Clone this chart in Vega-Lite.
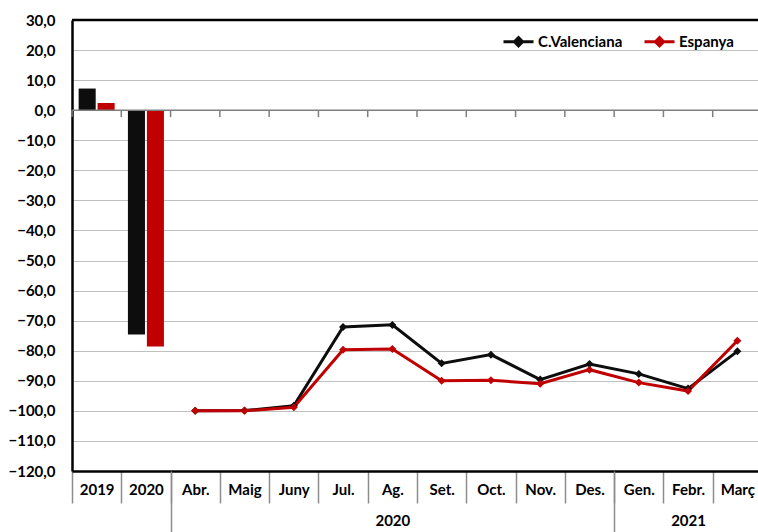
{
  "$schema": "https://vega.github.io/schema/vega-lite/v6.json",
  "width": 686,
  "height": 451,
  "autosize": "none",
  "padding": {"left": 72, "top": 20, "right": 0, "bottom": 61},
  "background": "white",
  "config": {
    "view": {"stroke": null},
    "font": "Lato",
    "axisY": {
      "title": null,
      "values": [-120,-110,-100,-90,-80,-70,-60,-50,-40,-30,-20,-10,0,10,20,30],
      "labelExpr": "replace(format(datum.value, '.1f'), '.', ',')",
      "labelOverlap": false, "labelBound": false, "labelFlush": false,
      "domain": true, "domainColor": "black", "domainWidth": 2.5,
      "ticks": false, "labelPadding": 17,
      "labelFont": "Lato", "labelFontWeight": "bold", "labelFontSize": 15, "labelColor": "black",
      "grid": true, "gridDash": [1, 1], "gridColor": "#808080", "gridWidth": 1, "gridOpacity": 1
    }
  },
  "datasets": {
    "bars": [
      {"cat": "2019", "serie": "C.Valenciana", "v": 7.2},
      {"cat": "2019", "serie": "Espanya", "v": 2.4},
      {"cat": "2020", "serie": "C.Valenciana", "v": -74.6},
      {"cat": "2020", "serie": "Espanya", "v": -78.6}
    ],
    "lines": [
      {"cat": "Abr.", "serie": "C.Valenciana", "v": -100.0},
      {"cat": "Maig", "serie": "C.Valenciana", "v": -99.9},
      {"cat": "Juny", "serie": "C.Valenciana", "v": -98.3},
      {"cat": "Jul.", "serie": "C.Valenciana", "v": -72.1},
      {"cat": "Ag.", "serie": "C.Valenciana", "v": -71.4},
      {"cat": "Set.", "serie": "C.Valenciana", "v": -84.2},
      {"cat": "Oct.", "serie": "C.Valenciana", "v": -81.3},
      {"cat": "Nov.", "serie": "C.Valenciana", "v": -89.6},
      {"cat": "Des.", "serie": "C.Valenciana", "v": -84.4},
      {"cat": "Gen.", "serie": "C.Valenciana", "v": -87.7},
      {"cat": "Febr.", "serie": "C.Valenciana", "v": -92.6},
      {"cat": "Març", "serie": "C.Valenciana", "v": -80.2},
      {"cat": "Abr.", "serie": "Espanya", "v": -100.0},
      {"cat": "Maig", "serie": "Espanya", "v": -100.0},
      {"cat": "Juny", "serie": "Espanya", "v": -98.8},
      {"cat": "Jul.", "serie": "Espanya", "v": -79.7},
      {"cat": "Ag.", "serie": "Espanya", "v": -79.4},
      {"cat": "Set.", "serie": "Espanya", "v": -90.0},
      {"cat": "Oct.", "serie": "Espanya", "v": -89.8},
      {"cat": "Nov.", "serie": "Espanya", "v": -91.0},
      {"cat": "Des.", "serie": "Espanya", "v": -86.3},
      {"cat": "Gen.", "serie": "Espanya", "v": -90.6},
      {"cat": "Febr.", "serie": "Espanya", "v": -93.4},
      {"cat": "Març", "serie": "Espanya", "v": -76.7}
    ],
    "cats": [
      {"cat": "2019"}, {"cat": "2020"}, {"cat": "Abr."}, {"cat": "Maig"}, {"cat": "Juny"},
      {"cat": "Jul."}, {"cat": "Ag."}, {"cat": "Set."}, {"cat": "Oct."}, {"cat": "Nov."},
      {"cat": "Des."}, {"cat": "Gen."}, {"cat": "Febr."}, {"cat": "Març"}
    ],
    "one": [{}]
  },
  "resolve": {"axis": {"x": "independent"}},
  "layer": [
    {
      "data": {"name": "bars"},
      "mark": {"type": "bar", "opacity": 1},
      "encoding": {
        "x": {
          "field": "cat", "type": "nominal",
          "scale": {
            "domain": ["2019","2020","Abr.","Maig","Juny","Jul.","Ag.","Set.","Oct.","Nov.","Des.","Gen.","Febr.","Març"],
            "range": [0, 690], "paddingInner": 0, "paddingOuter": 0
          },
          "axis": {
            "orient": "bottom", "title": null, "labelAngle": 0,
            "domain": true, "domainColor": "black", "domainWidth": 2.5,
            "ticks": true, "tickBand": "extent", "tickSize": 32, "tickColor": "#8c8c8c", "tickWidth": 1.5,
            "labelPadding": -21, "labelBaseline": "top",
            "labelFont": "Lato", "labelFontWeight": "bold", "labelFontSize": 15, "labelColor": "black",
            "labelOverlap": false, "labelBound": false, "labelFlush": false, "grid": false
          }
        },
        "xOffset": {
          "field": "serie",
          "scale": {"domain": ["C.Valenciana", "Espanya"], "paddingInner": 0.1, "paddingOuter": 0.35}
        },
        "y": {
          "field": "v", "type": "quantitative",
          "scale": {"domain": [-120, 30], "nice": false},
          "axis": {"values": [-120,-110,-100,-90,-80,-70,-60,-50,-40,-30,-20,-10,0,10,20,30], "labelExpr": "replace(format(datum.value, '.1f'), '.', ',')", "grid": true, "gridDash": [1, 1], "gridColor": "#808080", "gridWidth": 1, "gridOpacity": 1, "tickCount": 16, "labelOverlap": false}
        },
        "color": {
          "field": "serie", "type": "nominal",
          "scale": {"domain": ["C.Valenciana", "Espanya"], "range": ["#0d0d0d", "#c00000"]},
          "legend": {
            "orient": "none", "legendX": 430, "legendY": 5, "direction": "horizontal", "title": null,
            "labelFont": "Lato", "labelFontWeight": "bold", "labelFontSize": 15, "labelColor": "black",
            "symbolType": "M-1,0L1,0M0,-0.27L0.27,0L0,0.27L-0.27,0Z",
            "symbolSize": 900, "symbolStrokeWidth": 3, "columnPadding": 15, "labelOffset": 3,
            "symbolOpacity": 1,
            "encode": {"symbols": {"update": {"stroke": {"scale": "color", "field": "value"}, "fill": {"scale": "color", "field": "value"}, "size": {"value": 900}, "strokeWidth": {"value": 3}}}}
          }
        }
      }
    },
    {
      "data": {"name": "one"},
      "mark": {"type": "rule", "color": "#7f7f7f", "strokeWidth": 1.5},
      "encoding": {"y": {"datum": 0, "type": "quantitative", "axis": {"values": [-120,-110,-100,-90,-80,-70,-60,-50,-40,-30,-20,-10,0,10,20,30], "labelExpr": "replace(format(datum.value, '.1f'), '.', ',')", "grid": true, "gridDash": [1, 1], "gridColor": "#808080", "gridWidth": 1, "gridOpacity": 1, "tickCount": 16, "labelOverlap": false}}}
    },
    {
      "data": {"name": "cats"},
      "mark": {"type": "rule", "color": "#7f7f7f", "strokeWidth": 1.5},
      "encoding": {
        "x": {"field": "cat", "type": "nominal", "bandPosition": 0, "axis": null},
        "y": {"datum": 0, "type": "quantitative", "axis": {"values": [-120,-110,-100,-90,-80,-70,-60,-50,-40,-30,-20,-10,0,10,20,30], "labelExpr": "replace(format(datum.value, '.1f'), '.', ',')", "grid": true, "gridDash": [1, 1], "gridColor": "#808080", "gridWidth": 1, "gridOpacity": 1, "tickCount": 16, "labelOverlap": false}},
        "y2": {"datum": -2.3}
      }
    },
    {
      "data": {"name": "one"},
      "mark": {"type": "rule", "color": "black", "strokeWidth": 2.5},
      "encoding": {"y": {"datum": 30, "type": "quantitative", "axis": {"values": [-120,-110,-100,-90,-80,-70,-60,-50,-40,-30,-20,-10,0,10,20,30], "labelExpr": "replace(format(datum.value, '.1f'), '.', ',')", "grid": true, "gridDash": [1, 1], "gridColor": "#808080", "gridWidth": 1, "gridOpacity": 1, "tickCount": 16, "labelOverlap": false}}}
    },
    {
      "data": {"name": "lines"},
      "mark": {"type": "line", "strokeWidth": 3},
      "encoding": {
        "x": {
          "field": "cat", "type": "nominal",
          "axis": {
            "orient": "bottom", "title": null, "labelAngle": 0, "domain": false,
            "ticks": true, "tickBand": "extent", "tickSize": 61, "tickWidth": 1.5,
            "tickColor": {"condition": {"test": "datum.extra === true || datum.value == '2020' || datum.value == 'Des.'", "value": "#8c8c8c"}, "value": "transparent"},
            "labelExpr": "datum.value == 'Ag.' ? '2020' : (datum.value == 'Febr.' ? '2021' : '')",
            "labelPadding": -19, "labelBaseline": "top",
            "labelFont": "Lato", "labelFontWeight": "bold", "labelFontSize": 15, "labelColor": "black",
            "labelOverlap": false, "labelBound": false, "labelFlush": false, "grid": false
          }
        },
        "y": {"field": "v", "type": "quantitative", "axis": {"values": [-120,-110,-100,-90,-80,-70,-60,-50,-40,-30,-20,-10,0,10,20,30], "labelExpr": "replace(format(datum.value, '.1f'), '.', ',')", "grid": true, "gridDash": [1, 1], "gridColor": "#808080", "gridWidth": 1, "gridOpacity": 1, "tickCount": 16, "labelOverlap": false}},
        "color": {"field": "serie", "type": "nominal"}
      }
    },
    {
      "data": {"name": "lines"},
      "mark": {"type": "point", "shape": "diamond", "filled": true, "size": 64, "opacity": 1},
      "encoding": {
        "x": {"field": "cat", "type": "nominal", "axis": null},
        "y": {"field": "v", "type": "quantitative", "axis": {"values": [-120,-110,-100,-90,-80,-70,-60,-50,-40,-30,-20,-10,0,10,20,30], "labelExpr": "replace(format(datum.value, '.1f'), '.', ',')", "grid": true, "gridDash": [1, 1], "gridColor": "#808080", "gridWidth": 1, "gridOpacity": 1, "tickCount": 16, "labelOverlap": false}},
        "color": {"field": "serie", "type": "nominal"}
      }
    }
  ]
}
